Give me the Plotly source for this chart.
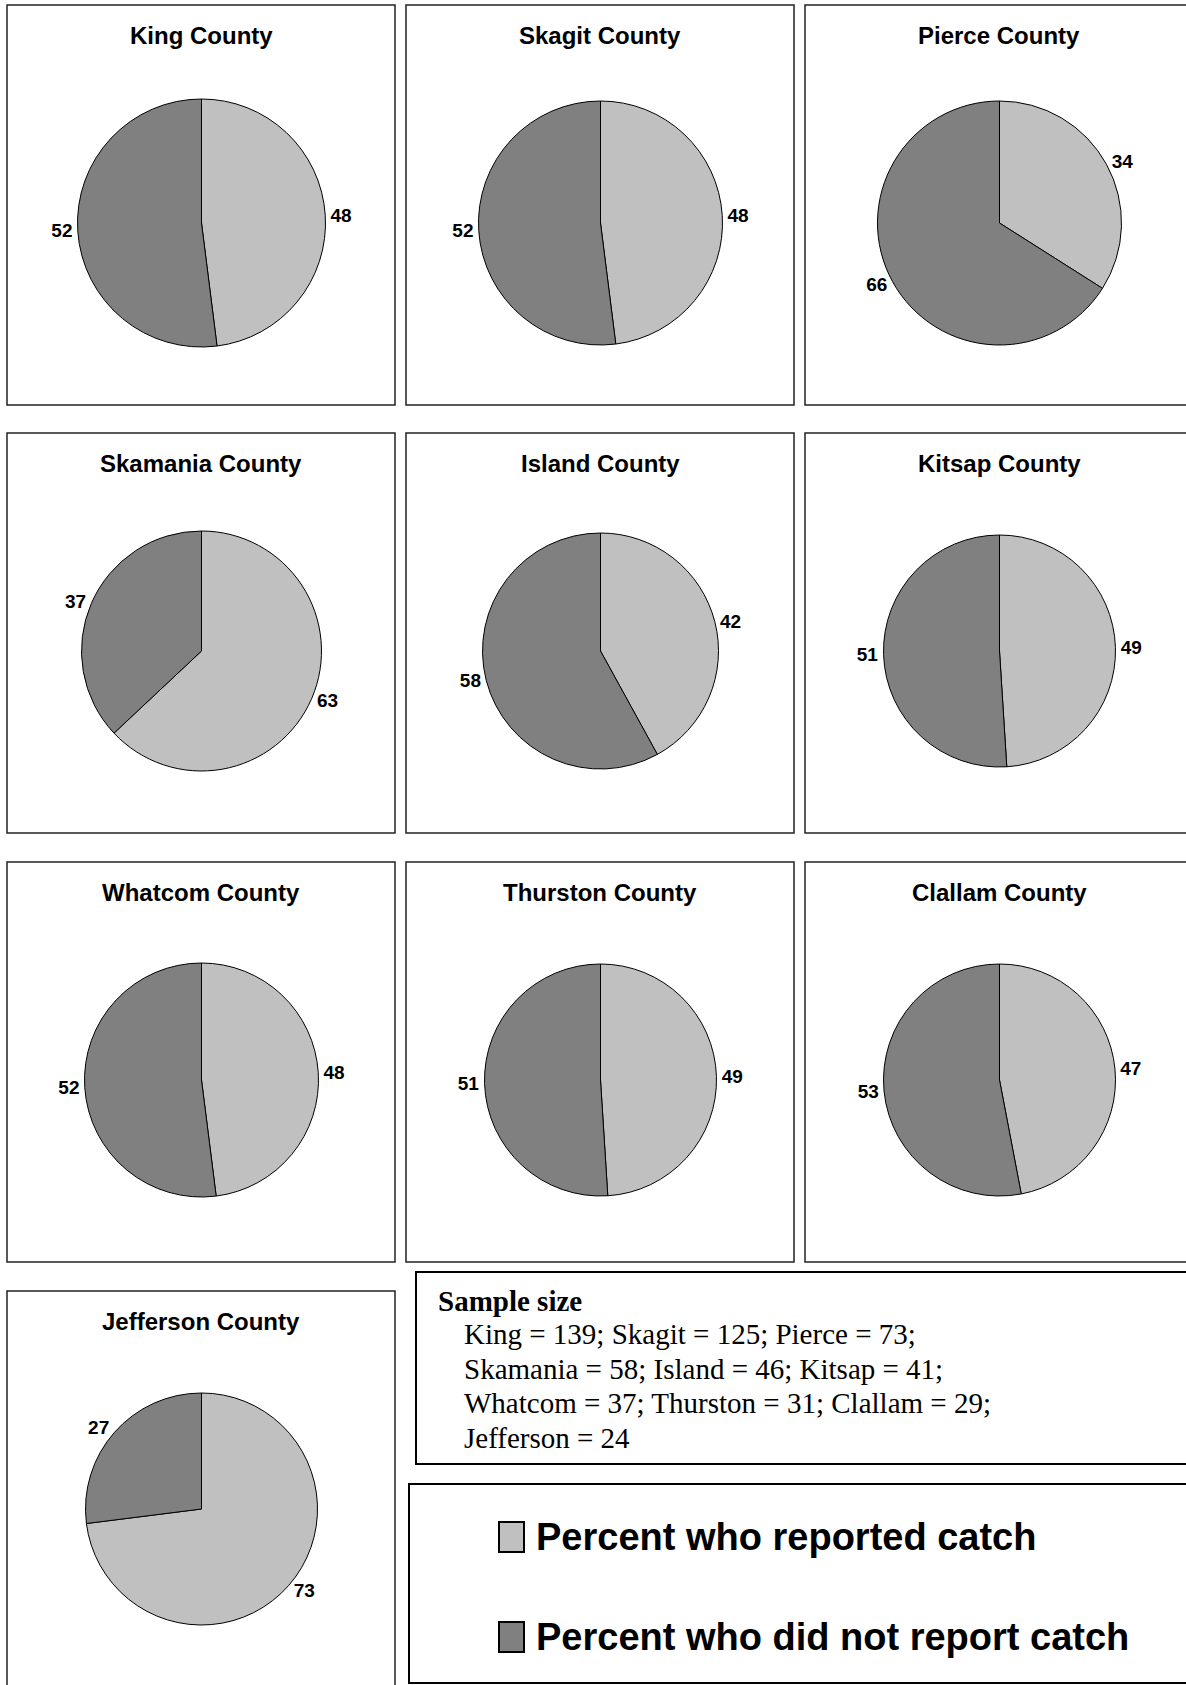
import plotly.graph_objects as go

W, H = 1186, 1685

counties = ["King", "Skagit", "Pierce", "Skamania", "Island", "Kitsap",
            "Whatcom", "Thurston", "Clallam", "Jefferson"]
reported = [48, 48, 34, 63, 42, 49, 48, 49, 47, 73]
not_reported = [52, 52, 66, 37, 58, 51, 52, 51, 53, 27]
sample_size = [139, 125, 73, 58, 46, 41, 37, 31, 29, 24]
labels = ["Percent who reported catch", "Percent who did not report catch"]
colors = ["#C0C0C0", "#808080"]

# layout helpers (pixel -> paper)
def px(x):
    return x / W

def py(y):
    return 1 - y / H

col_left = [7, 406, 805]
row_top = [5, 433, 862, 1291]
panel_w, panel_h = 388, 400
radius = [124, 122, 122, 120, 118, 116, 117, 116, 116, 116]

ARIAL = "Liberation Sans, Arial, sans-serif"
TIMES = "Liberation Serif, Times New Roman, serif"

fig = go.Figure()
shapes = []
annotations = []

for i, name in enumerate(counties):
    left = col_left[i % 3]
    top = row_top[i // 3]
    cx = left + panel_w / 2 + 0.5
    cy = top + 218
    r = radius[i]
    fig.add_trace(go.Pie(
        labels=labels,
        values=[reported[i], not_reported[i]],
        marker=dict(colors=colors, line=dict(color="black", width=1)),
        sort=False,
        direction="clockwise",
        rotation=0,
        textinfo="value",
        textposition="outside",
        outsidetextfont=dict(family=ARIAL, size=19, color="black", weight="bold"),
        showlegend=False,
        hoverinfo="label+value",
        domain=dict(x=[px(cx - r), px(cx + r)], y=[py(cy + r), py(cy - r)]),
    ))
    shapes.append(dict(type="rect", xref="paper", yref="paper",
                       x0=px(left), x1=px(left + panel_w),
                       y0=py(top + panel_h), y1=py(top),
                       line=dict(color="#222222", width=1.5)))
    annotations.append(dict(text=f"{name} County", xref="paper", yref="paper",
                            x=px(left + panel_w / 2), y=py(top + 30),
                            xanchor="center", yanchor="middle", showarrow=False,
                            font=dict(family=ARIAL, size=24, color="black", weight="bold")))

# sample size box
shapes.append(dict(type="rect", xref="paper", yref="paper",
                   x0=px(416), x1=px(1200), y0=py(1464), y1=py(1272),
                   line=dict(color="black", width=2)))
annotations.append(dict(text="<b>Sample size</b>", xref="paper", yref="paper",
                        x=px(436), y=py(1301), xanchor="left", yanchor="middle",
                        showarrow=False, font=dict(family=TIMES, size=29, color="black")))
groups = [range(0, 3), range(3, 6), range(6, 9), range(9, 10)]
for n, g in enumerate(groups):
    line = "; ".join(f"{counties[j]} = {sample_size[j]}" for j in g)
    if g[-1] != len(counties) - 1:
        line += ";"
    annotations.append(dict(text=line, xref="paper", yref="paper",
                            x=px(462), y=py(1334 + 34.5 * n), xanchor="left",
                            yanchor="middle", showarrow=False,
                            font=dict(family=TIMES, size=29, color="black")))

# legend box
shapes.append(dict(type="rect", xref="paper", yref="paper",
                   x0=px(409), x1=px(1200), y0=py(1683), y1=py(1484),
                   line=dict(color="black", width=2)))
for k, lab in enumerate(labels):
    y0 = 1522 + 100 * k
    shapes.append(dict(type="rect", xref="paper", yref="paper",
                       x0=px(499), x1=px(524), y0=py(y0 + 30), y1=py(y0),
                       fillcolor=colors[k], line=dict(color="black", width=2)))
    annotations.append(dict(text=lab, xref="paper", yref="paper",
                            x=px(534), y=py(y0 + 15), xanchor="left", yanchor="middle",
                            showarrow=False,
                            font=dict(family=ARIAL, size=38, color="black",
                                      weight="bold")))

fig.update_layout(
    width=W, height=H,
    margin=dict(l=0, r=0, t=0, b=0),
    paper_bgcolor="white",
    plot_bgcolor="white",
    shapes=shapes,
    annotations=annotations,
)

fig.write_html("out.html", config={"displayModeBar": False},
               post_script="document.body.style.margin='0';")
